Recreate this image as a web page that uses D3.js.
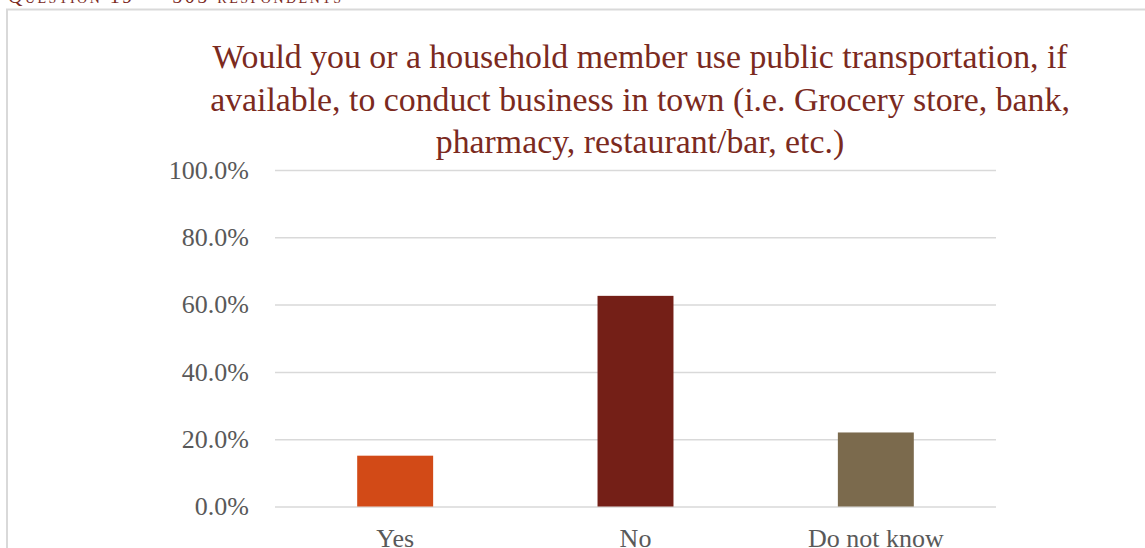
<!DOCTYPE html>
<html>

<head>
  <script src="https://d3js.org/d3.v7.min.js"></script>
  <style>
    body { margin: 0; background: #fff; }
    svg { display: block; }
  </style>
</head>

<body>
  <svg id="chart" width="1145" height="548"></svg>
  <script>
    const categories = ["Yes", "No", "Do not know"];
    const shares = [0.151, 0.626, 0.220];
    const barColors = ["#D24A17", "#741F17", "#7B6A4D"];
    const yTicks = [0, 0.2, 0.4, 0.6, 0.8, 1.0];
    const titleLines = [
      "Would you or a household member use public transportation, if",
      "available, to conduct business in town (i.e. Grocery store, bank,",
      "pharmacy, restaurant/bar, etc.)"
    ];
    const header = "Question 19 — 505 respondents";

    let svg = d3.select('svg#chart');
    const margins = { top: 170, left: 275, right: 149, bottom: 41.5 };
    const width = +svg.attr('width');
    const height = +svg.attr('height');
    const chartWidth = width - margins.left - margins.right;
    const chartHeight = height - margins.top - margins.bottom;
    const serif = "'Liberation Serif', 'DejaVu Serif', serif";

    // page frame, cut by the window
    svg.append('rect')
      .attr('x', 7).attr('y', 9.5)
      .attr('width', 1200).attr('height', 600)
      .attr('fill', 'none')
      .attr('stroke', '#d9d9d9')
      .attr('stroke-width', 2);

    svg.append('text')
      .attr('x', 8).attr('y', 3)
      .style('font-family', serif)
      .style('font-size', '20px')
      .style('font-variant', 'small-caps')
      .style('letter-spacing', '2.5px')
      .attr('fill', '#7B2A1E')
      .text(header);

    const xScale = d3.scaleBand().domain(categories)
      .range([0, chartWidth]).paddingInner(0.684).paddingOuter(0.342);
    const yScale = d3.scaleLinear().domain([0, 1]).range([chartHeight, 0]);

    let chartArea = svg.append('g')
      .attr('transform', `translate(${margins.left},${margins.top})`);

    // gridlines
    let grid = chartArea.append('g')
      .call(d3.axisLeft(yScale).tickValues(yTicks).tickSize(-chartWidth).tickFormat(''));
    grid.select('.domain').remove();
    grid.selectAll('line').attr('stroke', '#d9d9d9').attr('stroke-width', 1.5);

    // y labels
    let yAxis = chartArea.append('g')
      .call(d3.axisLeft(yScale).tickValues(yTicks).tickSize(0).tickPadding(26).tickFormat(d3.format('.1%')));
    yAxis.select('.domain').remove();
    yAxis.selectAll('text')
      .style('font-family', serif)
      .style('font-size', '26px')
      .attr('fill', '#595959');

    // bars
    chartArea.selectAll('rect.bar').data(categories)
      .join('rect')
      .attr('class', 'bar')
      .attr('x', d => xScale(d))
      .attr('width', xScale.bandwidth())
      .attr('y', (d, i) => yScale(shares[i]))
      .attr('height', (d, i) => chartHeight - yScale(shares[i]))
      .attr('fill', (d, i) => barColors[i]);

    // category labels
    let xAxis = chartArea.append('g')
      .attr('transform', `translate(0,${chartHeight})`)
      .call(d3.axisBottom(xScale).tickSize(0).tickPadding(22));
    xAxis.select('.domain').remove();
    xAxis.selectAll('text')
      .style('font-family', serif)
      .style('font-size', '26px')
      .attr('fill', '#595959');

    // title
    svg.append('text')
      .attr('text-anchor', 'middle')
      .style('font-family', serif)
      .style('font-size', '33.8px')
      .attr('fill', '#7B2A1E')
      .selectAll('tspan').data(titleLines)
      .join('tspan')
      .attr('x', 640)
      .attr('y', (d, i) => 68 + i * 42.5)
      .text(d => d);
  </script>
</body>

</html>
